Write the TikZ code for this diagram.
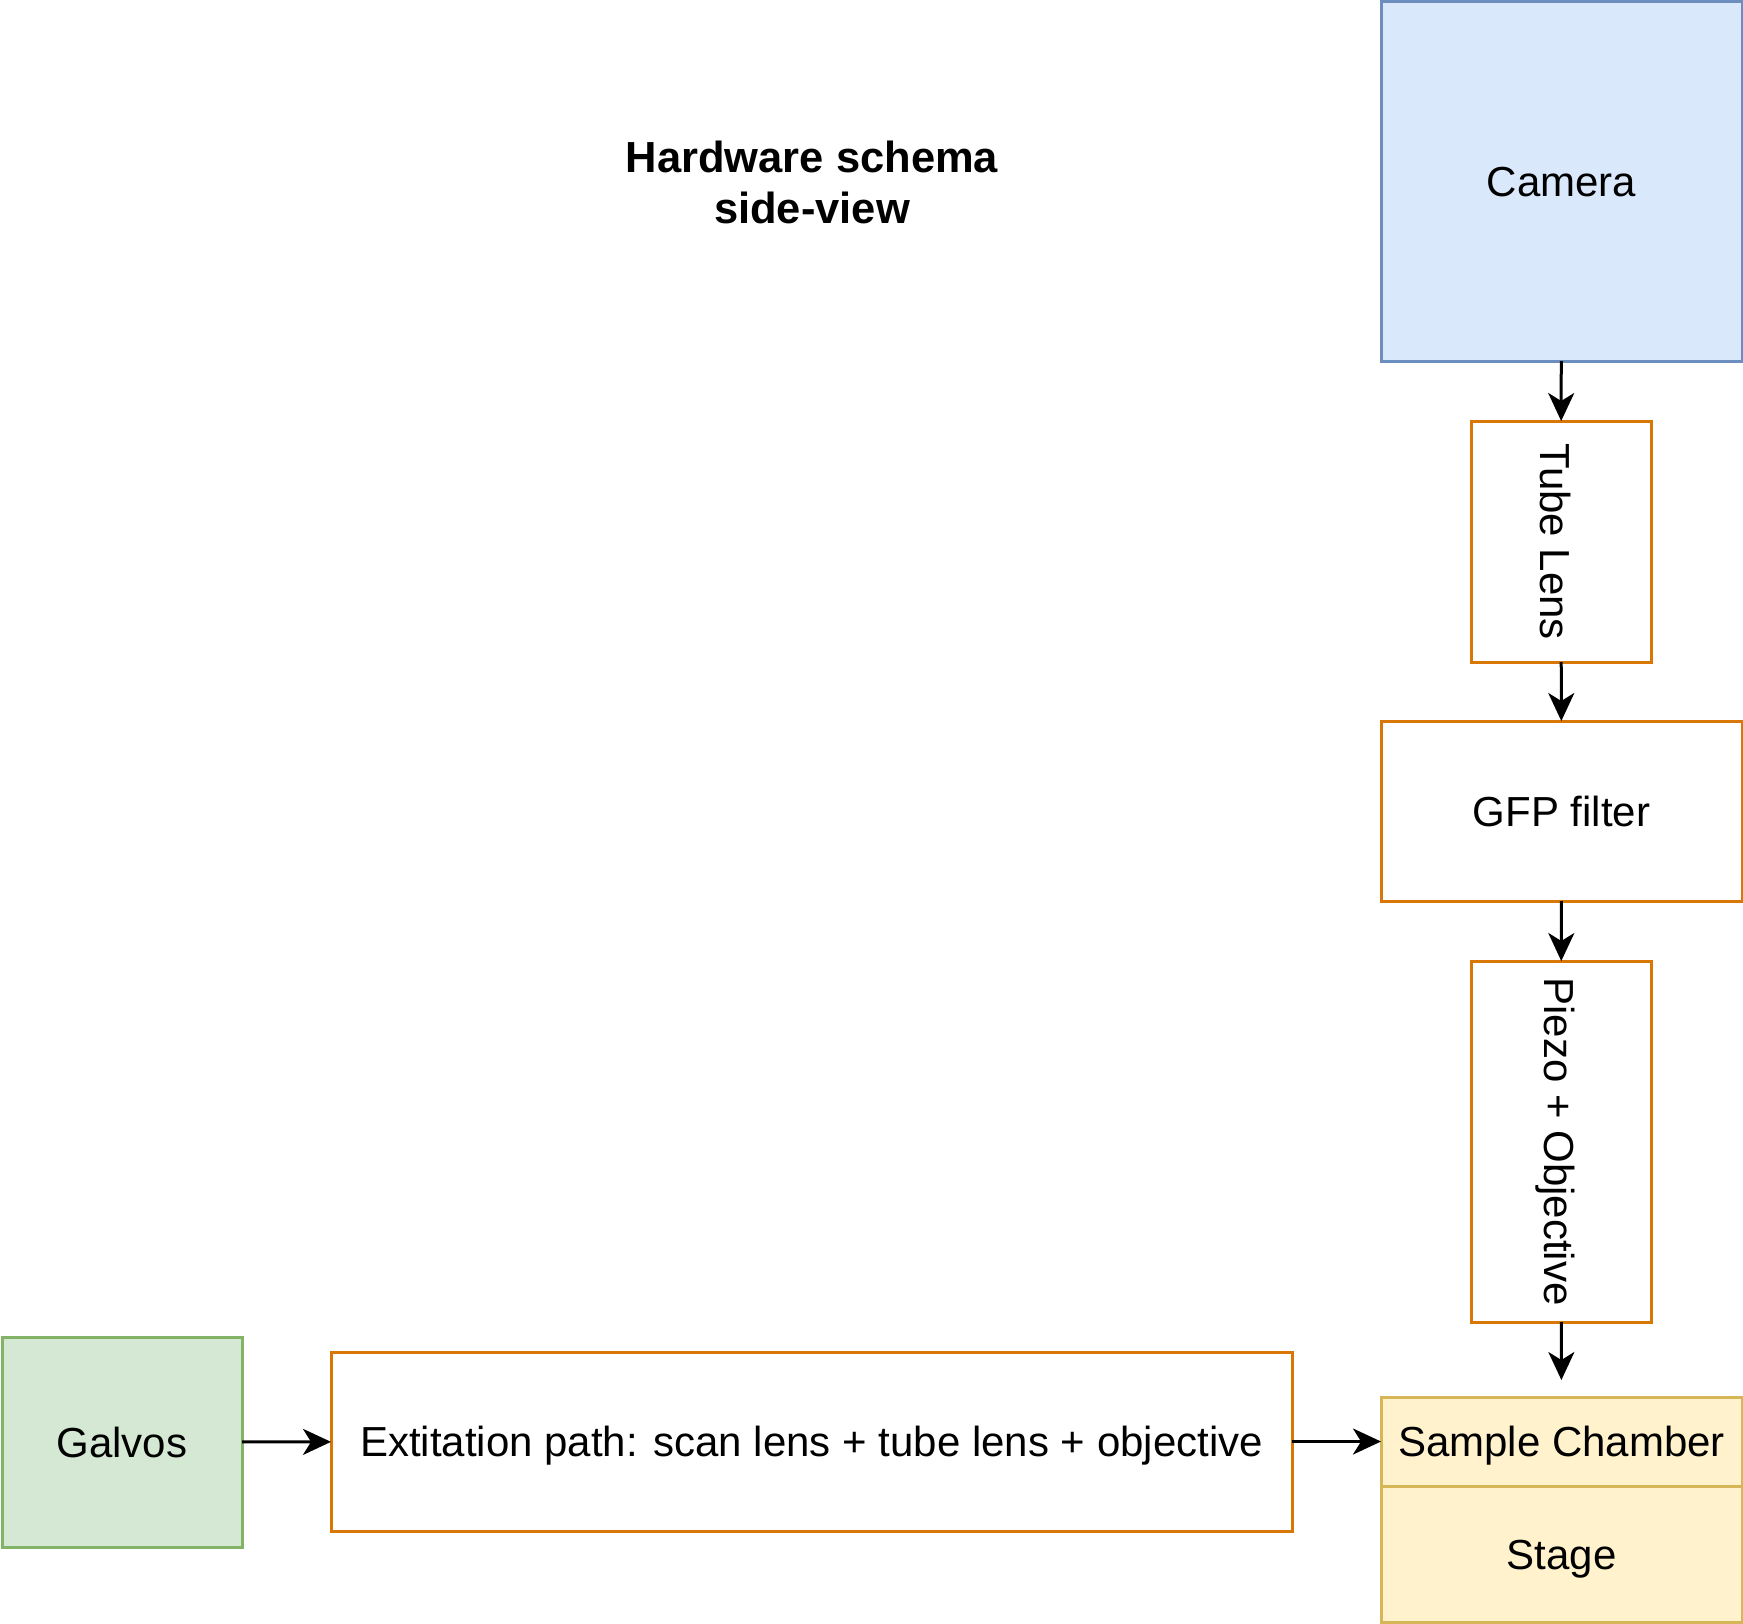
\documentclass[tikz,border=0pt]{standalone}
\usepackage{fontspec}
\setmainfont{Liberation Sans}
\usetikzlibrary{arrows.meta}
\definecolor{blueF}{HTML}{DAE8FC}\definecolor{blueS}{HTML}{6C8EBF}
\definecolor{greenF}{HTML}{D5E8D4}\definecolor{greenS}{HTML}{82B366}
\definecolor{yelF}{HTML}{FFF2CC}\definecolor{yelS}{HTML}{D6B656}
\definecolor{orS}{HTML}{D97706}
\tikzset{
  box/.style={rectangle, draw, line width=3pt, inner sep=0pt, outer sep=0pt, font=\fontsize{42}{50}\selectfont, text height=39pt, text depth=9pt},
  conn/.style={line width=3pt, -{Stealth[length=28pt,width=26pt,inset=8pt]}},
}
\begin{document}
\begin{tikzpicture}[x=1pt,y=-1pt]
\useasboundingbox (0,0) rectangle (1743,1623);
\node[font=\fontsize{43.5}{51}\selectfont\bfseries, align=center] (title) at (812,182) {Hardware schema\\side-view};
\node[box, fill=blueF, draw=blueS, minimum width=361pt, minimum height=360pt] (cam) at (1561.5,181) {Camera};
\node[box, fill=white, draw=orS, minimum width=180pt, minimum height=241pt] (tube) at (1561,541.5) {};
\node[font=\fontsize{42}{50}\selectfont, rotate=-90] (tubet) at ([xshift=-6pt]tube.center) {Tube Lens};
\node[box, fill=white, draw=orS, minimum width=361pt, minimum height=180pt] (gfp) at (1561.5,811) {GFP filter};
\node[box, fill=white, draw=orS, minimum width=180pt, minimum height=361pt] (piezo) at (1561,1141.5) {};
\node[font=\fontsize{42}{50}\selectfont, rotate=-90] (piezot) at ([xshift=-6pt]piezo.center) {Piezo + Objective};
\node[box, fill=yelF, draw=yelS, minimum width=361pt, minimum height=89pt] (chamber) at (1561.5,1441.5) {Sample Chamber};
\node[box, fill=yelF, draw=yelS, minimum width=361pt, minimum height=136pt] (stage) at (1561.5,1554) {Stage};
\node[box, fill=greenF, draw=greenS, minimum width=240pt, minimum height=210pt] (galvos) at (122,1442) {Galvos};
\node[box, fill=white, draw=orS, minimum width=961pt, minimum height=179pt] (exc) at (811.5,1441.5) {Extitation path: scan lens + tube lens + objective};
\draw[conn] (cam) -- (tube);
\draw[conn] (tube) -- (gfp);
\draw[conn] (gfp) -- (piezo);
\draw[conn, shorten >=17pt] (piezo) -- (chamber);
\draw[conn] (galvos) -- (exc);
\draw[conn] (exc) -- (chamber);
\end{tikzpicture}
\end{document}
